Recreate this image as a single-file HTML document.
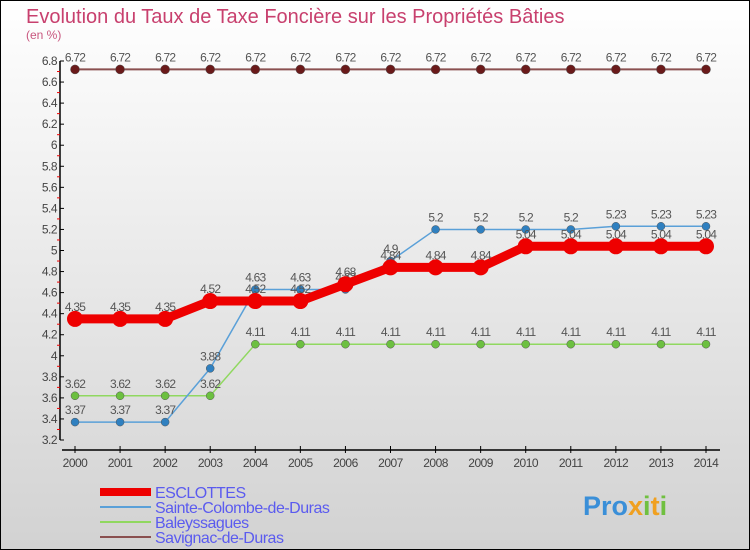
<!DOCTYPE html>
<html><head><meta charset="utf-8"><style>
body{margin:0}
#wrap{position:relative;width:750px;height:550px;overflow:hidden;font-family:"Liberation Sans",sans-serif}
</style></head><body>
<div id="wrap">
<svg id="chart" width="750" height="550" xmlns="http://www.w3.org/2000/svg">
<defs><linearGradient id="bg" x1="0" y1="0" x2="0" y2="1"><stop offset="0" stop-color="#ffffff"/><stop offset="1" stop-color="#d2d2d2"/></linearGradient></defs>
<rect x="0.5" y="0.5" width="749" height="549" fill="url(#bg)" stroke="#000"/>
<text x="26" y="23" font-size="20" fill="#c8406e">Evolution du Taux de Taxe Foncière sur les Propriétés Bâties</text>
<text x="26" y="39" font-size="12" fill="#c8567e">(en %)</text>
<g id="axes"></g><g id="series"></g><g id="legend"></g>
<text x="583" y="515" font-size="27" font-weight="bold" fill="#3a8fd8">Pro<tspan fill="#f0a020">x</tspan><tspan fill="#70c040">i</tspan><tspan fill="#f0a020">t</tspan><tspan fill="#70c040">i</tspan></text>
</svg></div>
<script>
const years=[2000,2001,2002,2003,2004,2005,2006,2007,2008,2009,2010,2011,2012,2013,2014];
const yTicks=[3.2,3.4,3.6,3.8,4,4.2,4.4,4.6,4.8,5,5.2,5.4,5.6,5.8,6,6.2,6.4,6.6,6.8];
const esclottes=[4.35,4.35,4.35,4.52,4.52,4.52,4.68,4.84,4.84,4.84,5.04,5.04,5.04,5.04,5.04];
const sainteColombe=[3.37,3.37,3.37,3.88,4.63,4.63,4.63,4.9,5.2,5.2,5.2,5.2,5.23,5.23,5.23];
const baleyssagues=[3.62,3.62,3.62,3.62,4.11,4.11,4.11,4.11,4.11,4.11,4.11,4.11,4.11,4.11,4.11];
const savignac=[6.72,6.72,6.72,6.72,6.72,6.72,6.72,6.72,6.72,6.72,6.72,6.72,6.72,6.72,6.72];
const seriesNames=["ESCLOTTES","Sainte-Colombe-de-Duras","Baleyssagues","Savignac-de-Duras"];
const NS="http://www.w3.org/2000/svg";
const x=i=>75+i*(706-75)/(years.length-1);
const y=v=>440-(v-3.2)*(440-61)/(6.8-3.2);
function mk(t,a,p){const e=document.createElementNS(NS,t);for(const k in a)e.setAttribute(k,a[k]);p.appendChild(e);return e;}
const axes=document.getElementById('axes');
let e=mk('line',{x1:60,y1:61,x2:60,y2:440,stroke:'#000','stroke-width':1.5},axes);


e=mk('line',{x1:62,y1:450,x2:720,y2:450,stroke:'#000','stroke-width':1.5},axes);


yTicks.forEach((t,i)=>{
 mk('line',{x1:60,y1:y(t),x2:64,y2:y(t),stroke:'#000'},axes);
 if(i<yTicks.length-1)mk('line',{x1:57,y1:y(t+0.1),x2:60,y2:y(t+0.1),stroke:'#e00'},axes);
 const l=mk('text',{x:57,y:y(t)+4,'font-size':12,'text-anchor':'end',fill:'#444','letter-spacing':'-0.5'},axes);
 l.textContent=String(t);
 
 
});
years.forEach((yr,i)=>{
 mk('line',{x1:x(i),y1:446,x2:x(i),y2:453,stroke:'#000'},axes);
 const l=mk('text',{x:x(i),y:467,'font-size':12,'text-anchor':'middle',fill:'#444','letter-spacing':'-0.5'},axes);
 l.textContent=yr;
 
 
});
const sg=document.getElementById('series');
const defs=[[savignac,'#8a5050','#6a1a1a',2,4.5,'savignac'],[baleyssagues,'#90d860','#6cc040',1.5,4,'baleyssagues'],[sainteColombe,'#5aa0d8','#2f80c0',1.5,4,'sainte-colombe'],[esclottes,'#ee0000','#ee0000',9,8,'esclottes']];
defs.forEach(([d,lc,pc,w,r,n])=>{
 const pl=mk('polyline',{points:d.map((v,i)=>x(i)+','+y(v)).join(' '),fill:'none',stroke:lc,'stroke-width':w},sg);
 
 
 d.forEach((v,i)=>{
  const c=mk('circle',{cx:x(i),cy:y(v),r:r,fill:pc,stroke:n==='esclottes'?'none':'#555','stroke-width':0.5},sg);
  
  
  const t=mk('text',{x:x(i),y:y(v)-8,'font-size':12,'text-anchor':'middle',fill:'#555','letter-spacing':'-0.8'},sg);
  t.textContent=String(v);
  
  
 });
});
const lg=document.getElementById('legend');
const lcols=['#ee0000','#5aa0d8','#90d860','#8a5050'],lw=[8,2,2,2];
seriesNames.forEach((s,i)=>{
 const yy=492+i*15;
 const ln=mk('line',{x1:100,y1:yy,x2:151,y2:yy,stroke:lcols[i],'stroke-width':lw[i]},lg);
 
 
 const t=mk('text',{x:155,y:yy+6,'font-size':16,fill:'#5b5bef','letter-spacing':'-0.5'},lg);
 t.textContent=s;
 
 
});
</script>
</body></html>
